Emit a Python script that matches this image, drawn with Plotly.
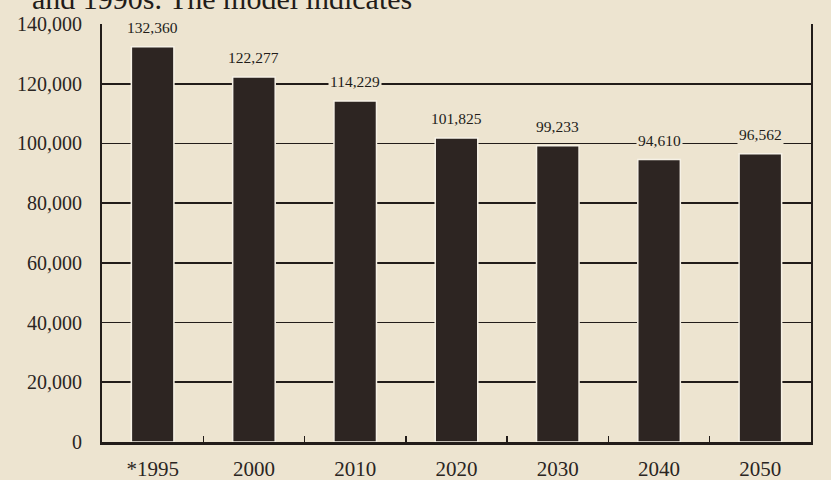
import plotly.graph_objects as go

categories = ["*1995", "2000", "2010", "2020", "2030", "2040", "2050"]
values = [132360, 122277, 114229, 101825, 99233, 94610, 96562]
value_labels = ["132,360", "122,277", "114,229", "101,825", "99,233", "94,610", "96,562"]
y_tickvals = [0, 20000, 40000, 60000, 80000, 100000, 120000, 140000]
y_ticktext = ["0", "20,000", "40,000", "60,000", "80,000", "100,000", "120,000", "140,000"]
header_text = "and 1990s. The model indicates"

PAPER = "#ede4d0"
INK = "#221c19"
BAR = "#2d2522"
FONT = "Liberation Serif, Times New Roman, serif"

fig = go.Figure()
fig.add_trace(go.Bar(
    x=categories, y=values, width=0.42,
    marker=dict(color=BAR, line=dict(color="#f6f1e6", width=1.5)),
    hoverinfo="skip",
))

for i, (v, t) in enumerate(zip(values, value_labels)):
    fig.add_annotation(
        x=i, y=v, text=t, showarrow=False, yanchor="middle", yshift=19,
        font=dict(family=FONT, size=15.5, color=INK),
        bgcolor=PAPER, borderpad=1,
    )

fig.add_annotation(
    xref="paper", yref="paper", x=(31 - 102) / 709, y=1 + (24 - 16) / 418,
    xanchor="left", yanchor="bottom", showarrow=False, text=header_text,
    font=dict(family=FONT, size=30, color=INK), borderpad=0,
)

fig.update_layout(
    width=831, height=480,
    margin=dict(l=102, r=20, t=24, b=38, autoexpand=False),
    paper_bgcolor=PAPER, plot_bgcolor=PAPER,
    showlegend=False,
    font=dict(family=FONT, color=INK),
)
fig.update_xaxes(
    type="category", range=[-0.5, len(categories) - 0.5], showgrid=False,
    showline=True, linecolor=INK, linewidth=3, mirror=False,
    ticks="inside", tickson="boundaries", ticklen=6, tickwidth=1.5, tickcolor=INK,
    tickfont=dict(family=FONT, size=21, color="#2a2522"),
    ticklabelstandoff=6, tickangle=0, automargin=False,
)
fig.update_yaxes(
    range=[0, 140000], tickvals=y_tickvals, ticktext=y_ticktext,
    showgrid=True, gridcolor=INK, gridwidth=1.6,
    showline=True, linecolor=INK, linewidth=2, mirror=True,
    zeroline=False, ticks="",
    tickfont=dict(family=FONT, size=20, color="#2a2522"),
    ticklabelstandoff=14, automargin=False,
)

fig.write_html(
    "out.html",
    config={"displayModeBar": False, "staticPlot": True},
    post_script="document.body.style.margin='0';document.body.style.overflow='hidden';"
                "document.body.style.background='" + PAPER + "';",
)
